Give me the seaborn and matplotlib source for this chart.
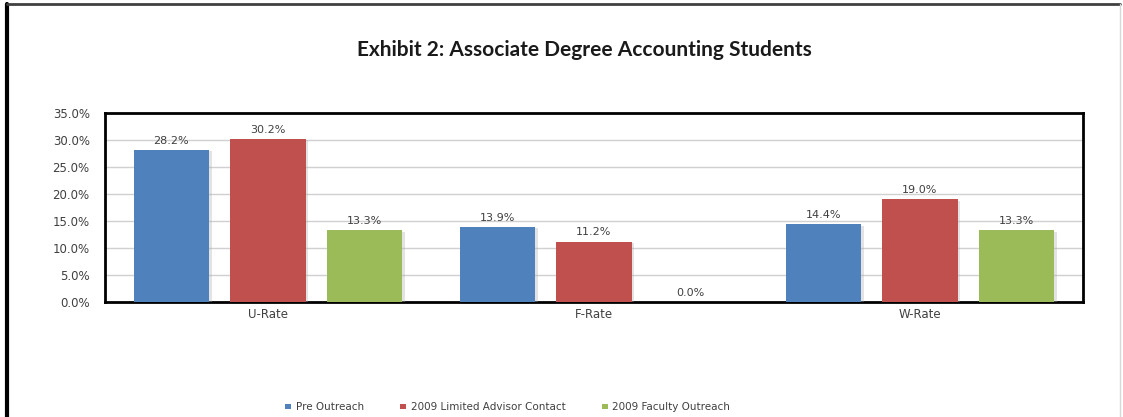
import matplotlib
matplotlib.use("Agg")
import matplotlib.pyplot as plt
import matplotlib.patheffects as pe
import seaborn as sns
import pandas as pd
from matplotlib.lines import Line2D
from matplotlib.patches import Patch

categories = ["U-Rate", "F-Rate", "W-Rate"]
series_names = ["Pre Outreach", "2009 Limited Advisor Contact", "2009 Faculty Outreach"]
pre_outreach = [28.2, 13.9, 14.4]
limited_advisor = [30.2, 11.2, 19.0]
faculty_outreach = [13.3, 0.0, 13.3]
y_ticks = [0, 5, 10, 15, 20, 25, 30, 35]
colors = ["#4F81BD", "#C0504D", "#9BBB59"]

rows = []
for name, vals in zip(series_names, [pre_outreach, limited_advisor, faculty_outreach]):
    for c, v in zip(categories, vals):
        rows.append({"Category": c, "Series": name, "Value": v})
df = pd.DataFrame(rows)

sns.set_style("white")
plt.rcParams["font.family"] = ["DejaVu Sans"]

fig = plt.figure(figsize=(11.23, 4.17), dpi=100)
ax = fig.add_axes([105 / 1123, 1 - 302 / 417, (1083 - 105) / 1123, (302 - 113) / 417])

sns.barplot(data=df, x="Category", y="Value", hue="Series", order=categories,
            hue_order=series_names, palette=colors, width=0.89, gap=0.22,
            saturation=1, ax=ax, legend=False, zorder=3, linewidth=0, edgecolor="none")

for p in ax.patches:
    p.set_path_effects([pe.SimplePatchShadow(offset=(2, -1), shadow_rgbFace="#b0b0b0", alpha=0.35),
                        pe.Normal()])

ax.set_ylim(0, 35)
ax.set_xlim(-0.5, 2.5)
ax.set_yticks(y_ticks)
ax.set_yticklabels([f"{t:.1f}%" for t in y_ticks], fontsize=8.5, color="#404040")
ax.tick_params(axis="x", labelsize=8.5, colors="#404040", length=0, pad=4)
ax.tick_params(axis="y", length=0, pad=11)
ax.set_xlabel("")
ax.set_ylabel("")
ax.grid(axis="y", color="#d0d0d0", linewidth=1, zorder=0)
ax.set_axisbelow(True)
for s in ax.spines.values():
    s.set_visible(True)
    s.set_color("black")
    s.set_linewidth(2)

for cont in ax.containers:
    ax.bar_label(cont, labels=[f"{v:.1f}%" for v in cont.datavalues],
                 fontsize=8, color="#404040", padding=3)

fig.text(0.52, 1 - 50 / 417, "Exhibit 2: Associate Degree Accounting Students",
         ha="center", va="center", fontsize=15, fontweight="bold",
         family=["Lato", "DejaVu Sans"], color="#1a1a1a")

handles = [Patch(facecolor=c, edgecolor="none") for c in colors]
fig.legend(handles, series_names, loc="center", bbox_to_anchor=(0.452, 1 - 407 / 417),
           ncol=3, frameon=False, fontsize=7.5, handlelength=0.6, handleheight=0.4,
           columnspacing=3.5, handletextpad=0.4, labelcolor="#404040")

# outer frame
fig.add_artist(Line2D([7 / 1123, 7 / 1123], [0, 1 - 4 / 417], transform=fig.transFigure,
                      color="black", linewidth=3))
fig.add_artist(Line2D([7 / 1123, 1120 / 1123], [1 - 4 / 417, 1 - 4 / 417],
                      transform=fig.transFigure, color="#404040", linewidth=2))
fig.add_artist(Line2D([1120 / 1123, 1120 / 1123], [0, 1 - 4 / 417], transform=fig.transFigure,
                      color="#d8d8d8", linewidth=1))

fig.savefig("out.png", dpi=100, facecolor="white")
